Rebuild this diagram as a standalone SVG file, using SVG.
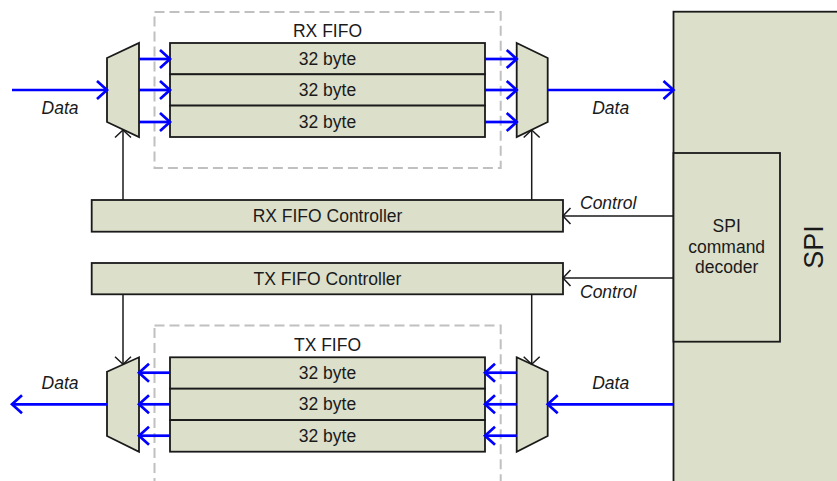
<svg xmlns="http://www.w3.org/2000/svg" width="837" height="481" viewBox="0 0 837 481">
<style>
.box{fill:#DCDFCA;stroke:#1a1a1a;stroke-width:1.8}
.dash{fill:none;stroke:#C0C0C0;stroke-width:2;stroke-dasharray:10,5}
.t{font-family:"Liberation Sans",Arial,sans-serif;font-size:17.5px;fill:#1a1a1a;text-anchor:middle}
.i{font-family:"Liberation Sans",Arial,sans-serif;font-size:17.5px;font-style:italic;fill:#1a1a1a}
.blue{fill:none;stroke:#0000FF;stroke-width:2.7;marker-end:url(#ab)}
.blk{fill:none;stroke:#1a1a1a;stroke-width:1.5;marker-end:url(#ak)}
</style>
<defs>
<marker id="ab" markerUnits="userSpaceOnUse" viewBox="-14 -12 16 24" markerWidth="16" markerHeight="24" refX="0" refY="0" orient="auto" overflow="visible">
<path d="M-10,-9 L0,0 L-10,9" fill="none" stroke="#0000FF" stroke-width="2.7"/>
</marker>
<marker id="ak" markerUnits="userSpaceOnUse" viewBox="-12 -10 14 20" markerWidth="14" markerHeight="20" refX="0" refY="0" orient="auto" overflow="visible">
<path d="M-7.5,-8 L0,0 L-7.5,8" fill="none" stroke="#1a1a1a" stroke-width="1.5"/>
</marker>
</defs>

<g id="spi">
<rect class="box" x="673.5" y="11.7" width="190" height="490"/>
<text class="t" style="font-size:27px" transform="translate(822.5,247) rotate(-90)">SPI</text>
</g>
<g id="spi-decoder">
<rect class="box" x="673.5" y="153" width="106.5" height="188.7"/>
<text class="t" x="726.7" y="232">SPI</text>
<text class="t" x="726.7" y="252.7">command</text>
<text class="t" x="726.7" y="273">decoder</text>
</g>

<g id="rx-fifo">
<rect class="dash" x="154.5" y="12" width="346.2" height="156"/>
<text class="t" x="327.5" y="36.7">RX FIFO</text>
<rect class="box" x="170" y="43" width="315" height="31.3"/>
<rect class="box" x="170" y="74.3" width="315" height="31.3"/>
<rect class="box" x="170" y="105.6" width="315" height="31.4"/>
<text class="t" x="327.5" y="64.5">32 byte</text>
<text class="t" x="327.5" y="96">32 byte</text>
<text class="t" x="327.5" y="127.5">32 byte</text>
</g>

<g id="tx-fifo">
<rect class="dash" x="154.5" y="325.5" width="346.2" height="200"/>
<text class="t" x="327.5" y="350.5">TX FIFO</text>
<rect class="box" x="170" y="357.3" width="315" height="31.4"/>
<rect class="box" x="170" y="388.7" width="315" height="31.4"/>
<rect class="box" x="170" y="420.1" width="315" height="31.6"/>
<text class="t" x="327.5" y="378.8">32 byte</text>
<text class="t" x="327.5" y="410.2">32 byte</text>
<text class="t" x="327.5" y="441.6">32 byte</text>
</g>

<g id="rx-demux">
<polygon class="box" points="107,58 139,43 139,137 107,122"/>
</g>
<g id="rx-mux">
<polygon class="box" points="516.7,43 547.7,58 547.7,122 516.7,137"/>
</g>
<g id="tx-mux">
<polygon class="box" points="107,371.7 139,357.3 139,451.7 107,436"/>
</g>
<g id="tx-demux">
<polygon class="box" points="516.7,357.3 547.7,371.7 547.7,436 516.7,451.7"/>
</g>

<g id="rx-controller">
<rect class="box" x="91.7" y="200" width="471.3" height="31.7"/>
<text class="t" x="327.5" y="221.5">RX FIFO Controller</text>
</g>
<g id="tx-controller">
<rect class="box" x="91.7" y="263" width="471.3" height="31.3"/>
<text class="t" x="327.5" y="284.5">TX FIFO Controller</text>
</g>

<g id="connectors">
<path class="blue" d="M12,90 H107"/>
<path class="blue" d="M139,59 H170"/>
<path class="blue" d="M139,90 H170"/>
<path class="blue" d="M139,122 H170"/>
<path class="blue" d="M485,59 H516.7"/>
<path class="blue" d="M485,90 H516.7"/>
<path class="blue" d="M485,122 H516.7"/>
<path class="blue" d="M547.7,90 H673.5"/>

<path class="blue" d="M170,372.7 H139"/>
<path class="blue" d="M170,404.3 H139"/>
<path class="blue" d="M170,435.7 H139"/>
<path class="blue" d="M107,404.3 H12"/>
<path class="blue" d="M516.7,372.7 H485"/>
<path class="blue" d="M516.7,404.3 H485"/>
<path class="blue" d="M516.7,435.7 H485"/>
<path class="blue" d="M673.5,404.3 H547.7"/>

<path class="blk" d="M123,200 V130"/>
<path class="blk" d="M531.7,200 V130"/>
<path class="blk" d="M123,294.3 V364.3"/>
<path class="blk" d="M531.7,294.3 V364.3"/>
<path class="blk" d="M673.5,216 H563"/>
<path class="blk" d="M673.5,278 H563"/>

<text class="i" x="60" y="114" text-anchor="middle">Data</text>
<text class="i" x="610.7" y="114" text-anchor="middle">Data</text>
<text class="i" x="60" y="389" text-anchor="middle">Data</text>
<text class="i" x="610.7" y="389" text-anchor="middle">Data</text>
<text class="i" x="580" y="209">Control</text>
<text class="i" x="580" y="298">Control</text>
</g>
</svg>
